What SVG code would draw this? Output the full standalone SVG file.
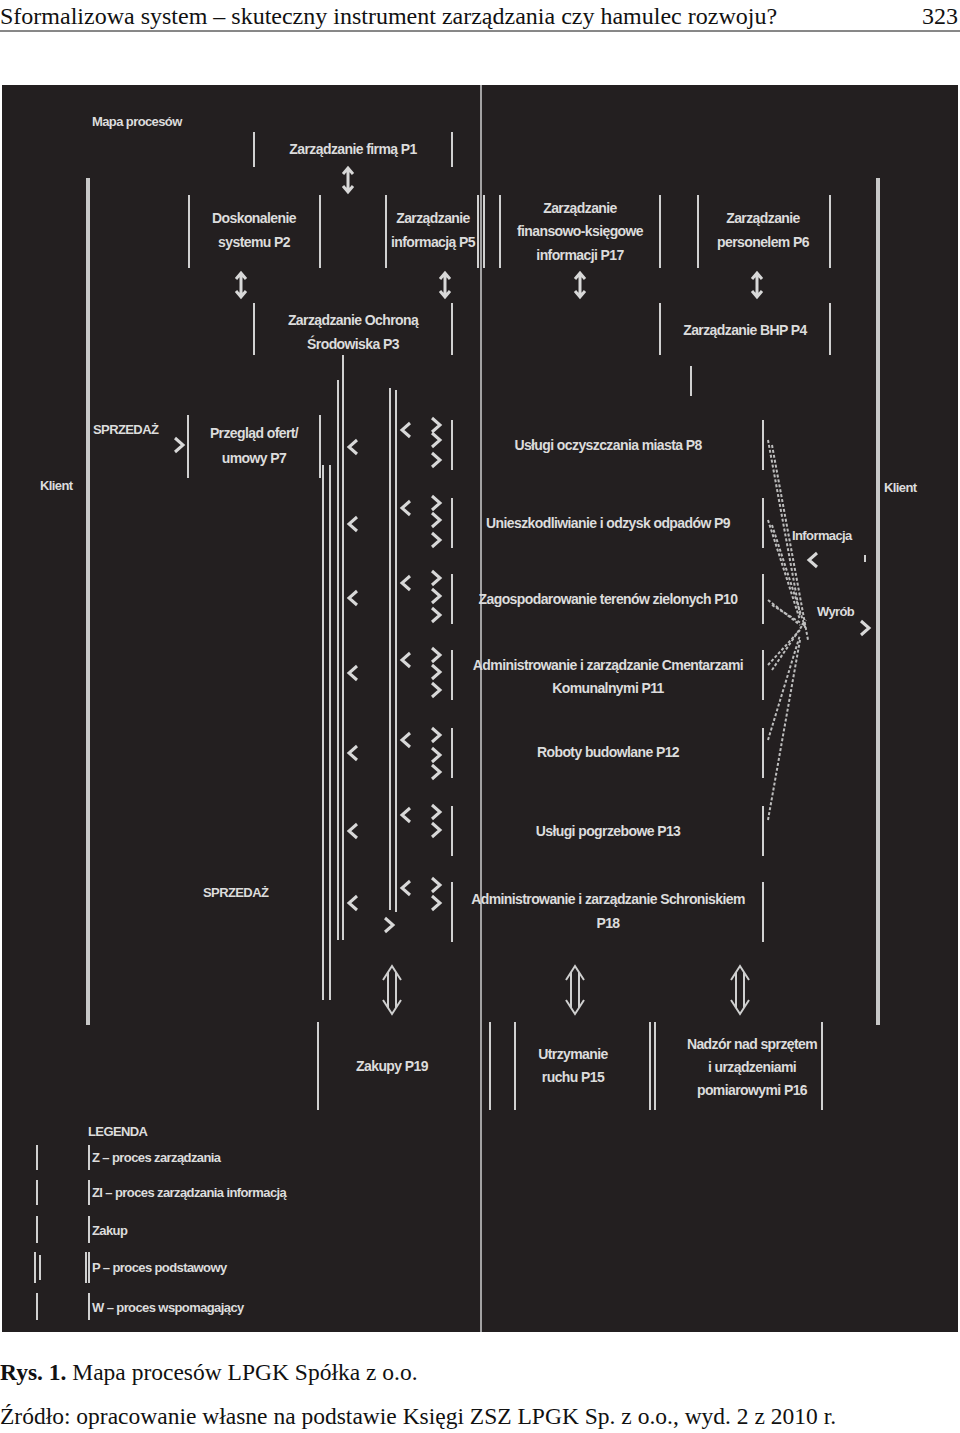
<svg xmlns="http://www.w3.org/2000/svg" width="960" height="1433" viewBox="0 0 960 1433">
<style>
.hd{font-family:"Liberation Serif",serif;font-size:24px;fill:#111}
.t{font-family:"Liberation Sans",sans-serif;font-size:14px;font-weight:bold;fill:#dcdcdc;text-anchor:middle;letter-spacing:-0.6px}
.tl{font-family:"Liberation Sans",sans-serif;font-size:13px;font-weight:bold;fill:#dcdcdc;letter-spacing:-0.6px}
.b{stroke:#d0d0d0;stroke-width:2;fill:none}
.bb{stroke:#c8c8c8;stroke-width:4;fill:none}
.c{stroke:#cfcfcf;stroke-width:2;fill:none}
.f{stroke:#bdbdbd;stroke-width:2;stroke-dasharray:3 2;fill:none}
.ch{stroke:#d8d8d8;stroke-width:3;fill:none}
</style>
<defs>
<g id="dbl"><path d="M0,-12 L0,12 M-5,-6 L0,-12 L5,-6 M-5,6 L0,12 L5,6" class="ch"/></g>
<g id="big"><path d="M-4,-18 L-4,18 M4,-18 L4,18 M-9,-10 L0,-24 L9,-10 M-9,10 L0,24 L9,10" class="c"/></g>
<path id="lt" d="M5,-7 L-3,0 L5,7" class="ch"/>
<path id="gt" d="M-5,-7 L3,0 L-5,7" class="ch"/>
</defs>
<rect width="960" height="1433" fill="#fff"/>
<text class="hd" x="0" y="24">Sformalizowa system – skuteczny instrument zarządzania czy hamulec rozwoju?</text>
<text class="hd" x="958" y="24" text-anchor="end">323</text>
<line x1="0" y1="31" x2="960" y2="31" stroke="#111" stroke-width="1"/>
<rect x="2" y="85" width="956" height="1247" fill="#231f20"/>
<line x1="481" y1="85" x2="481" y2="1332" stroke="#cfcfcf" stroke-width="1.5"/>
<text class="tl" x="92" y="126">Mapa procesów</text>

<g id="P1"><path class="b" d="M254,132V167M452,132V167"/><text class="t" x="353" y="154">Zarządzanie firmą P1</text></g>
<g id="P2"><path class="b" d="M189,195V268M320,195V268"/><text class="t" x="254" y="223">Doskonalenie</text><text class="t" x="254" y="247">systemu P2</text></g>
<g id="P5"><path class="b" d="M386,195V268M478,195V268"/><text class="t" x="433" y="223">Zarządzanie</text><text class="t" x="433" y="247">informacją P5</text></g>
<g id="P17"><path class="b" d="M484,195V268M500,195V268M660,195V268"/><text class="t" x="580" y="213">Zarządzanie</text><text class="t" x="580" y="236">finansowo-księgowe</text><text class="t" x="580" y="260">informacji P17</text></g>
<g id="P6"><path class="b" d="M698,195V268M830,195V268"/><text class="t" x="763" y="223">Zarządzanie</text><text class="t" x="763" y="247">personelem P6</text></g>
<g id="P3"><path class="b" d="M254,303V355M452,303V355"/><text class="t" x="353" y="325">Zarządzanie Ochroną</text><text class="t" x="353" y="349">Środowiska P3</text></g>
<g id="P4"><path class="b" d="M660,303V355M830,303V355"/><text class="t" x="745" y="335">Zarządzanie BHP P4</text></g>
<g id="klientL"><text class="tl" x="40" y="490">Klient</text></g>
<g id="klientR"><text class="tl" x="884" y="492">Klient</text></g>
<g id="sp1"><text class="tl" x="93" y="434">SPRZEDAŻ</text></g>
<g id="P7"><path class="b" d="M188,415V478M320,415V478"/><text class="t" x="254" y="438">Przegląd ofert/</text><text class="t" x="254" y="463">umowy P7</text></g>
<g id="P8"><path class="b" d="M452,420V470M763,420V470"/><text class="t" x="608" y="450">Usługi oczyszczania miasta P8</text></g>
<g id="P9"><path class="b" d="M452,498V548M763,498V548"/><text class="t" x="608" y="528">Unieszkodliwianie i odzysk odpadów P9</text></g>
<g id="P10"><path class="b" d="M452,574V624M763,574V624"/><text class="t" x="608" y="604">Zagospodarowanie terenów zielonych P10</text></g>
<g id="P11"><path class="b" d="M452,650V700M763,650V700"/><text class="t" x="608" y="670">Administrowanie i zarządzanie Cmentarzami</text><text class="t" x="608" y="693">Komunalnymi P11</text></g>
<g id="P12"><path class="b" d="M452,728V778M763,728V778"/><text class="t" x="608" y="757">Roboty budowlane P12</text></g>
<g id="P13"><path class="b" d="M452,806V856M763,806V856"/><text class="t" x="608" y="836">Usługi pogrzebowe P13</text></g>
<g id="P18"><path class="b" d="M452,882V942M763,882V942"/><text class="t" x="608" y="904">Administrowanie i zarządzanie Schroniskiem</text><text class="t" x="608" y="928">P18</text></g>
<g id="sp2"><text class="tl" x="203" y="897">SPRZEDAŻ</text></g>
<g id="info"><text class="tl" x="792" y="540">Informacja</text></g>
<g id="wyrob"><text class="tl" x="817" y="616">Wyrób</text></g>
<g id="P19"><path class="b" d="M318,1022V1110M490,1022V1110"/><text class="t" x="392" y="1071">Zakupy P19</text></g>
<g id="P15"><path class="b" d="M515,1022V1110M650,1022V1110"/><text class="t" x="573" y="1059">Utrzymanie</text><text class="t" x="573" y="1082">ruchu P15</text></g>
<g id="P16"><path class="b" d="M655,1022V1110M822,1022V1110"/><text class="t" x="752" y="1049">Nadzór nad sprzętem</text><text class="t" x="752" y="1072">i urządzeniami</text><text class="t" x="752" y="1095">pomiarowymi P16</text></g>
<g id="legend">
<text class="tl" x="88" y="1136">LEGENDA</text>
<path class="b" d="M37,1145V1170M89,1145V1170M37,1180V1205M89,1180V1205M37,1216V1243M89,1216V1243M35,1252V1283M40,1255V1280M86,1252V1283M89,1252V1283M37,1293V1320M89,1293V1320"/>
<text class="tl" x="92" y="1162">Z – proces zarządzania</text>
<text class="tl" x="92" y="1197">ZI – proces zarządzania informacją</text>
<text class="tl" x="92" y="1235">Zakup</text>
<text class="tl" x="92" y="1272">P – proces podstawowy</text>
<text class="tl" x="92" y="1312">W – proces wspomagający</text>
</g>
<g id="connectors">
<use href="#dbl" x="348" y="180"/>
<use href="#dbl" x="241" y="285"/><use href="#dbl" x="445" y="285"/><use href="#dbl" x="580" y="285"/><use href="#dbl" x="757" y="285"/>
<path class="b" d="M343,355V940M691,366V396"/>
<path class="bb" d="M88,178V1025M878,178V1025"/>
<path class="b" d="M323,465V1000M330,465V1000M338,380V940M390,388V910M396,390V912"/>
<use href="#gt" x="180" y="445"/>
<use href="#lt" x="352" y="447"/><use href="#lt" x="352" y="524"/><use href="#lt" x="352" y="598"/><use href="#lt" x="352" y="673"/><use href="#lt" x="352" y="753"/><use href="#lt" x="352" y="831"/><use href="#lt" x="352" y="903"/>
<use href="#lt" x="405" y="430"/><use href="#lt" x="405" y="508"/><use href="#lt" x="405" y="583"/><use href="#lt" x="405" y="660"/><use href="#lt" x="405" y="740"/><use href="#lt" x="405" y="815"/><use href="#lt" x="405" y="888"/>
<use href="#gt" x="437" y="425"/><use href="#gt" x="437" y="440"/><use href="#gt" x="437" y="460"/>
<use href="#gt" x="437" y="503"/><use href="#gt" x="437" y="520"/><use href="#gt" x="437" y="540"/>
<use href="#gt" x="437" y="578"/><use href="#gt" x="437" y="596"/><use href="#gt" x="437" y="615"/>
<use href="#gt" x="437" y="655"/><use href="#gt" x="437" y="672"/><use href="#gt" x="437" y="690"/>
<use href="#gt" x="437" y="735"/><use href="#gt" x="437" y="755"/><use href="#gt" x="437" y="772"/>
<use href="#gt" x="437" y="812"/><use href="#gt" x="437" y="830"/>
<use href="#gt" x="437" y="885"/><use href="#gt" x="437" y="903"/><use href="#gt" x="390" y="925"/>
<path class="f" d="M768,440L800,615M768,520L800,620M768,600L800,625M768,665L800,630M768,740L800,635M768,820L800,640"/>
<path class="f" d="M772,445L808,640M772,525L806,630M772,605L804,625M772,670L806,620"/>
<use href="#lt" x="812" y="560"/><use href="#gt" x="866" y="628"/>
<path class="b" d="M865,555V562"/>
<use href="#big" x="392" y="990"/><use href="#big" x="575" y="990"/><use href="#big" x="740" y="990"/>
</g>
<text x="0" y="1380" font-family="Liberation Serif,serif" font-size="23.5" fill="#111"><tspan font-weight="bold">Rys. 1.</tspan> Mapa procesów LPGK Spółka z o.o.</text>
<text x="0" y="1424" font-family="Liberation Serif,serif" font-size="23.5" fill="#111">Źródło: opracowanie własne na podstawie Księgi ZSZ LPGK Sp. z o.o., wyd. 2 z 2010 r.</text>
</svg>
